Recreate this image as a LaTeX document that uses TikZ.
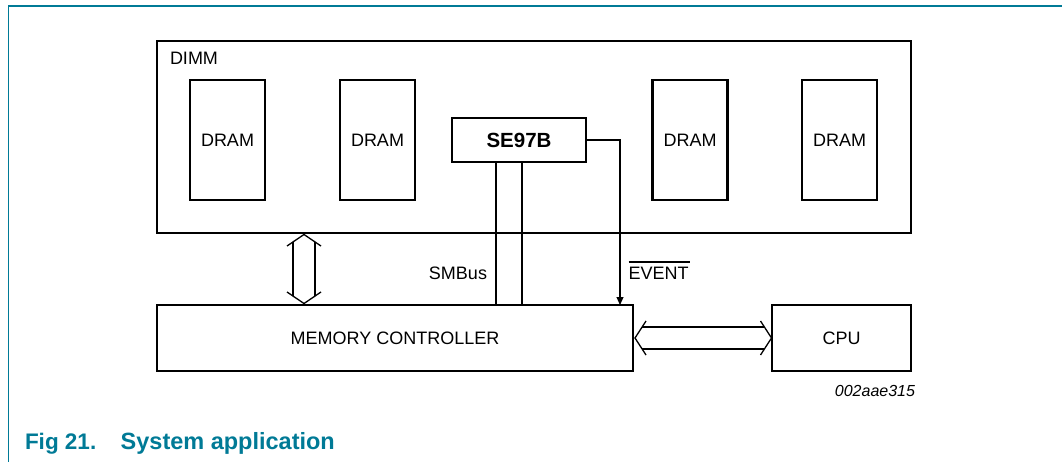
\documentclass[tikz,border=0pt]{standalone}
\usepackage{fontspec}
\setmainfont{Liberation Sans}
\usetikzlibrary{calc,arrows.meta}
\definecolor{nxpteal}{RGB}{0,122,150}
\begin{document}
\begin{tikzpicture}[x=1pt,y=-1pt,
  box/.style={draw,line width=2.5pt,inner sep=0pt,outer sep=0pt,font=\fontsize{18}{20}\selectfont},
  lbl/.style={inner sep=0pt,outer sep=0pt,font=\fontsize{18}{20}\selectfont},
  thinline/.style={line width=1.1pt},
  dbl/.style={line width=1.3pt,line join=miter}]
\useasboundingbox (0,0) rectangle (1062,462);
% frame
\draw[nxpteal,line width=1.6pt] (1062,6.3) -- (8.3,6.3) -- (8.3,462);
% boxes
\node[box,minimum width=754pt,minimum height=192pt] (dimm) at (534,137) {};
\node[lbl,anchor=base west] (dimmlbl) at (170,64.5) {DIMM};
\node[box,minimum width=75pt,minimum height=120pt] (d1) at (227.5,140) {DRAM};
\node[box,minimum width=75pt,minimum height=120pt] (d2) at (377.5,140) {DRAM};
\node[box,minimum width=75pt,minimum height=120pt] (d3) at (690,140) {DRAM};
\node[box,minimum width=75pt,minimum height=120pt] (d4) at (839.5,140) {DRAM};
\node[box,minimum width=134pt,minimum height=44pt,font=\fontsize{20.5}{22}\selectfont\bfseries] (se) at (519,140) {SE97B};
\node[box,minimum width=476pt,minimum height=66pt] (mc) at (395,338) {MEMORY CONTROLLER};
\node[box,minimum width=139pt,minimum height=66pt] (cpu) at (841.5,338) {CPU};
% labels
\node[lbl,anchor=base east] (smb) at (487,279.5) {SMBus};
\node[lbl,anchor=base west] (ev) at (628.5,279.5) {EVENT};
\draw[line width=1.1pt] ($(ev.base west)+(0,-17.5)$) -- ($(ev.base east)+(1,-17.5)$);
\node[lbl,anchor=base east,font=\fontsize{16}{18}\selectfont\itshape] (code) at (915,396) {002aae315};
\node[lbl,anchor=base west,font=\fontsize{22.5}{24}\selectfont\bfseries,text=nxpteal] (cap1) at (25,449.5) {Fig 21.};
\node[lbl,anchor=base west,font=\fontsize{23.5}{25}\selectfont\bfseries,text=nxpteal] (cap2) at (120.7,449.5) {System application};
% SMBus lines
\coordinate (s1) at ([xshift=-23pt]se.south);
\coordinate (s2) at ([xshift=3pt]se.south);
\draw[thinline] (s1) -- (s1 |- mc.north);
\draw[thinline] (s2) -- (s2 |- mc.north);
% EVENT line
\coordinate (evx) at (620,0);
\draw[thinline,-{Triangle[length=8pt,width=7pt]}] (se.east) -| (evx |- mc.north);
% vertical double arrow DIMM <-> MC
\coordinate (vt) at ($(dimm.south west)+(147,1.5)$);
\coordinate (vb) at ($(vt |- mc.north)+(0,-1.5)$);
\draw[dbl] ([shift={(-17,11.5)}]vt) -- (vt) -- ([shift={(17,11.5)}]vt);
\draw[dbl] ([shift={(-17,-11.5)}]vb) -- (vb) -- ([shift={(17,-11.5)}]vb);
\draw[dbl] ([shift={(-11,7.4)}]vt) -- ([shift={(-11,-7.4)}]vb);
\draw[dbl] ([shift={(11,7.4)}]vt) -- ([shift={(11,-7.4)}]vb);
% horizontal double arrow MC <-> CPU
\coordinate (hl) at ([xshift=2pt]mc.east);
\coordinate (hr) at ([xshift=-0.5pt]cpu.west);
\draw[dbl] ([shift={(11,-17)}]hl) -- (hl) -- ([shift={(11,17)}]hl);
\draw[dbl] ([shift={(-11,-17)}]hr) -- (hr) -- ([shift={(-11,17)}]hr);
\draw[dbl] ([shift={(7.1,-11)}]hl) -- ([shift={(-7.1,-11)}]hr);
\draw[dbl] ([shift={(7.1,11)}]hl) -- ([shift={(-7.1,11)}]hr);
\end{tikzpicture}
\end{document}
